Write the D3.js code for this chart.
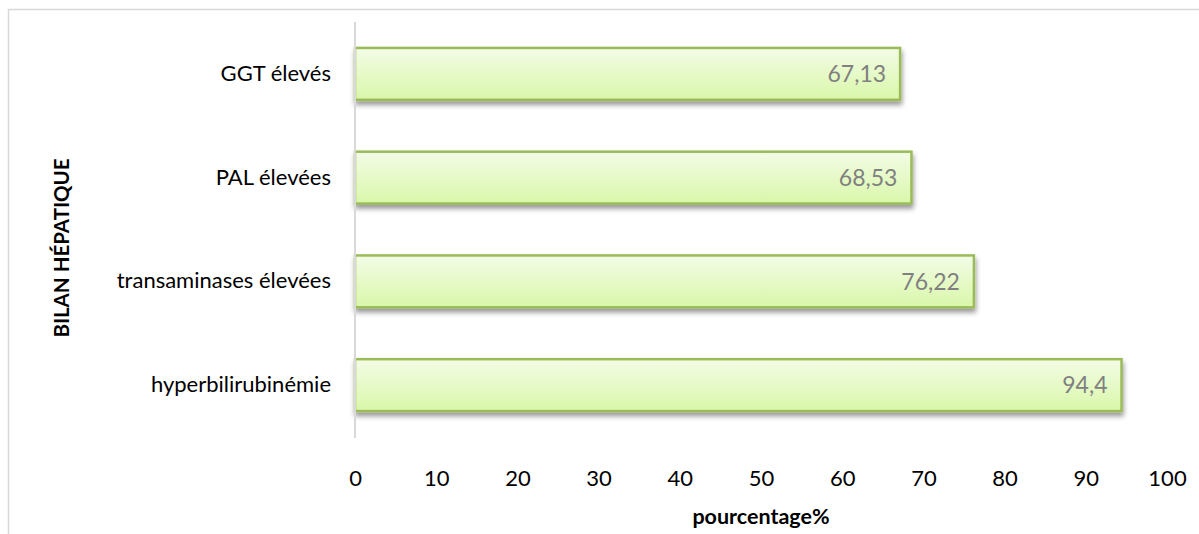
<!DOCTYPE html>
<html>
<head>
<meta charset="utf-8">
<script src="https://cdn.jsdelivr.net/npm/d3@7"></script>
<style>
  body { margin: 0; background: #fff; }
  text { font-family: Lato, "Open Sans", sans-serif; }
</style>
</head>
<body>
<div class="chart"></div>
<script>
var categories = ["GGT élevés", "PAL élevées", "transaminases élevées", "hyperbilirubinémie"];
var values = [67.13, 68.53, 76.22, 94.4];
var labels = ["67,13", "68,53", "76,22", "94,4"];
var ticks = [0, 10, 20, 30, 40, 50, 60, 70, 80, 90, 100];

var width = 1199, height = 534;
var plotLeft = 355, plotRight = 1167, plotTop = 22, plotBottom = 437;

var svg = d3.select(".chart").append("svg")
            .attr("width", width)
            .attr("height", height);

var defs = svg.append("defs");
var grad = defs.append("linearGradient")
               .attr("id", "barGrad")
               .attr("x1", 0).attr("y1", 0).attr("x2", 0).attr("y2", 1);
grad.append("stop").attr("offset", "0%").attr("stop-color", "#f3fce6");
grad.append("stop").attr("offset", "100%").attr("stop-color", "#d9f7a9");

var shadow = defs.append("filter")
                 .attr("id", "shadow")
                 .attr("x", "-5%").attr("y", "-20%")
                 .attr("width", "110%").attr("height", "160%");
shadow.append("feDropShadow")
      .attr("dx", 1).attr("dy", 4)
      .attr("stdDeviation", 2.5)
      .attr("flood-color", "#000")
      .attr("flood-opacity", 0.4);

// outer frame
svg.append("rect")
   .attr("x", 8.5).attr("y", 9.5)
   .attr("width", 1300).attr("height", 700)
   .attr("fill", "none")
   .attr("stroke", "#d9d9d9")
   .attr("stroke-width", 1.5);

var x = d3.scaleLinear().domain([0, 100]).range([plotLeft, plotRight]);
var y = d3.scaleBand().domain(categories).range([plotTop, plotBottom])
          .paddingInner(0.5).paddingOuter(0.25);

// bars
var bars = svg.selectAll("rect.bar").data(values);
bars.enter()
    .append("rect")
    .attr("class", "bar")
    .attr("x", x(0))
    .attr("y", function(d, i){ return y(categories[i]); })
    .attr("width", function(d){ return x(d) - x(0); })
    .attr("height", y.bandwidth())
    .attr("fill", "url(#barGrad)")
    .attr("stroke", "#9bbb59")
    .attr("stroke-width", 2.5)
    .attr("filter", "url(#shadow)");

// value labels
svg.selectAll("text.val").data(values)
   .enter()
   .append("text")
   .attr("class", "val")
   .attr("x", function(d){ return x(d) - 14; })
   .attr("y", function(d, i){ return y(categories[i]) + y.bandwidth() / 2; })
   .attr("dy", "0.36em")
   .attr("text-anchor", "end")
   .attr("font-size", 23)
   .attr("fill", "#808080")
   .text(function(d, i){ return labels[i]; });

// y axis line + category labels
var yAxis = svg.append("g")
               .attr("transform", "translate(" + plotLeft + ",0)")
               .call(d3.axisLeft(y).tickSize(0).tickPadding(24));
yAxis.select(".domain").attr("stroke", "#d9d9d9").attr("stroke-width", 2)
     .attr("d", "M0," + plotTop + "V" + (plotBottom + 1));
yAxis.selectAll("text").attr("font-size", 22).attr("fill", "#000")
     .style("font-family", "Lato, 'Open Sans', sans-serif");

// x axis tick labels
var xAxis = svg.append("g")
               .attr("transform", "translate(0," + 470 + ")")
               .call(d3.axisBottom(x).tickValues(ticks).tickSize(0).tickPadding(0));
xAxis.select(".domain").remove();
xAxis.selectAll("text").attr("font-size", 22).attr("fill", "#000")
     .style("font-family", "Lato, 'Open Sans', sans-serif");

// axis titles
svg.append("text")
   .attr("x", (plotLeft + plotRight) / 2)
   .attr("y", 524)
   .attr("text-anchor", "middle")
   .attr("font-size", 21.5)
   .attr("font-weight", "bold")
   .text("pourcentage%");

svg.append("text")
   .attr("transform", "translate(69,248) rotate(-90)")
   .attr("text-anchor", "middle")
   .attr("font-size", 20.5)
   .attr("font-weight", "bold")
   .text("BILAN HÉPATIQUE");
</script>
</body>
</html>
